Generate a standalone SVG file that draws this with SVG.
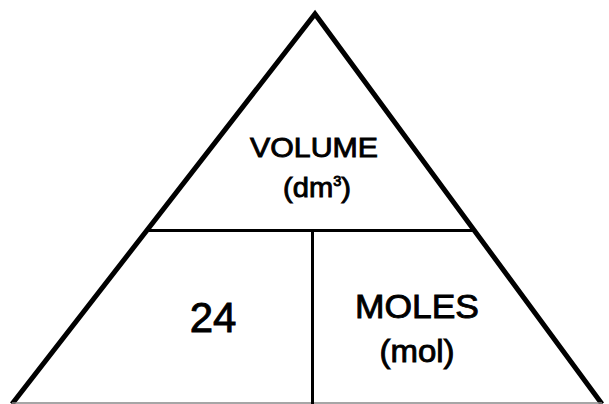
<svg xmlns="http://www.w3.org/2000/svg" width="609" height="404" viewBox="0 0 609 404">
<style>
.t{font-family:"Liberation Sans","DejaVu Sans",sans-serif;fill:#000;stroke:#000;stroke-width:0.9;text-anchor:middle}
.edge{stroke:#000;stroke-width:5;fill:none;stroke-linejoin:miter}
.div{stroke:#000;stroke-width:3;fill:none}
</style>
<rect width="609" height="404" fill="#fff"/>
<g id="connectors">
<polyline class="edge" points="12,404 315,14 602,404"/>
<line x1="12" y1="403" x2="602" y2="403" stroke="#888" stroke-width="1.5"/>
<line class="div" x1="149" y1="230.5" x2="474" y2="230.5"/>
<line class="div" x1="312.5" y1="230" x2="312.5" y2="404"/>
</g>
<g id="volume">
<text class="t" x="314" y="157" font-size="28" textLength="128" lengthAdjust="spacingAndGlyphs">VOLUME</text>
<text class="t" x="317" y="197" font-size="28" textLength="68" lengthAdjust="spacingAndGlyphs">(dm<tspan font-size="14" dy="-11">3</tspan><tspan dy="11">)</tspan></text>
</g>
<g id="n24">
<text class="t" x="213" y="332" font-size="42">24</text>
</g>
<g id="moles">
<text class="t" x="417" y="318" font-size="34" textLength="124" lengthAdjust="spacingAndGlyphs">MOLES</text>
<text class="t" x="417" y="362" font-size="32" textLength="75" lengthAdjust="spacingAndGlyphs">(mol)</text>
</g>
</svg>
